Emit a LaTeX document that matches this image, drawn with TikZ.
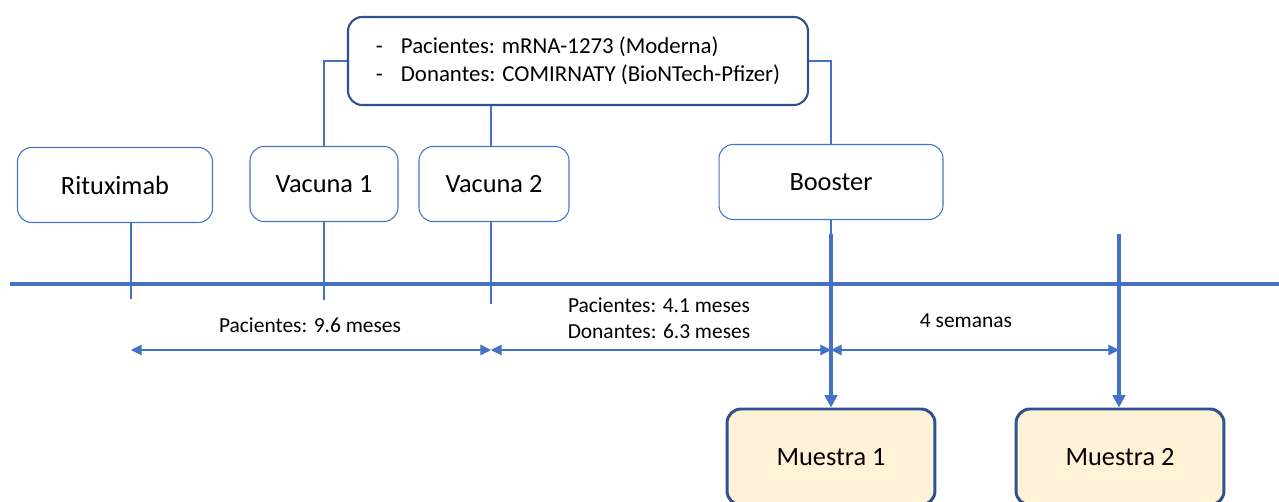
\documentclass[tikz,border=0pt]{standalone}
\usepackage{fontspec}
\setmainfont{Carlito}
\usetikzlibrary{arrows.meta,positioning}
\definecolor{accblue}{RGB}{68,114,196}
\definecolor{darkblue}{RGB}{47,82,143}
\definecolor{lightcream}{RGB}{255,242,215}

\begin{document}
\begin{tikzpicture}[x=0.02cm,y=-0.02cm,
  event/.style={draw=accblue,line width=0.6pt,rounded corners=8pt,minimum height=1.5cm,font=\fontsize{15}{18}\selectfont},
  sample/.style={draw=darkblue,fill=lightcream,line width=1.7pt,rounded corners=8pt,minimum width=4.16cm,minimum height=1.92cm,font=\fontsize{15}{18}\selectfont},
  link/.style={draw=accblue,line width=0.6pt},
  dim/.style={accblue,line width=0.6pt,{Triangle[length=6pt,width=6pt]}-{Triangle[length=6pt,width=6pt]}},
  big/.style={accblue,line width=2.1pt,-{Triangle[length=7pt,width=7pt]}},
  lbl/.style={font=\fontsize{12.2}{15}\selectfont,align=center}]
\useasboundingbox (0,0) rectangle (1279,502);

\node[draw=darkblue,line width=1.2pt,rounded corners=8pt,minimum width=9.2cm,minimum height=1.76cm,align=left,font=\fontsize{13}{16}\selectfont] (vac) at (578,61)
  {\makebox[1.1em][l]{-}Pacientes: mRNA-1273 (Moderna)\\\makebox[1.1em][l]{-}Donantes: COMIRNATY (BioNTech-Pfizer)};

\node[event,minimum width=3.9cm] (rit) at (115,185) {Rituximab};
\node[event,minimum width=2.96cm] (v1) at (324,184) {Vacuna 1};
\node[event,minimum width=3cm] (v2) at (494,184) {Vacuna 2};
\node[event,minimum width=4.48cm] (boost) at (831,182) {Booster};

\node[sample] (m1) at (831,457) {Muestra 1};
\node[sample] (m2) at (1120,457) {Muestra 2};

\coordinate (t0) at (131,350);
\coordinate (t1) at (491,350);
\coordinate (t2) at (831,350);
\coordinate (t3) at (1119,350);
\coordinate (rit-end) at (131,299);
\coordinate (v1-end) at (324,300);
\coordinate (v2-end) at (491,304);
\coordinate (tl-a) at (10,284);
\coordinate (tl-b) at (1279,284);
\coordinate (b1) at (831,234);
\coordinate (b2) at (1119,234);

\draw[link] (vac.west) -| (v1.north);
\draw[link] (vac.east) -| (boost.north);
\draw[link] (vac.south -| t1) -- (v2.north -| t1);

\foreach \n in {rit,v1,v2}
  \draw[link] (\n.south -| \n-end) -- (\n-end);

\draw[accblue,line width=2.3pt] (tl-a) -- (tl-b);

\draw[link] (boost.south) -- (b1);
\draw[big] (b1) -- (m1.north);
\draw[big] (b2) -- (m2.north -| b2);

\foreach \a/\b in {t0/t1,t1/t2,t2/t3}
  \draw[dim] (\a) -- (\b);

\node[lbl] (l1) at (310,325) {Pacientes: 9.6 meses};
\node[lbl] (l2) at (659,318) {Pacientes: 4.1 meses\\Donantes: 6.3 meses};
\node[lbl] (l3) at (966,321) {4 semanas};
\end{tikzpicture}
\end{document}
